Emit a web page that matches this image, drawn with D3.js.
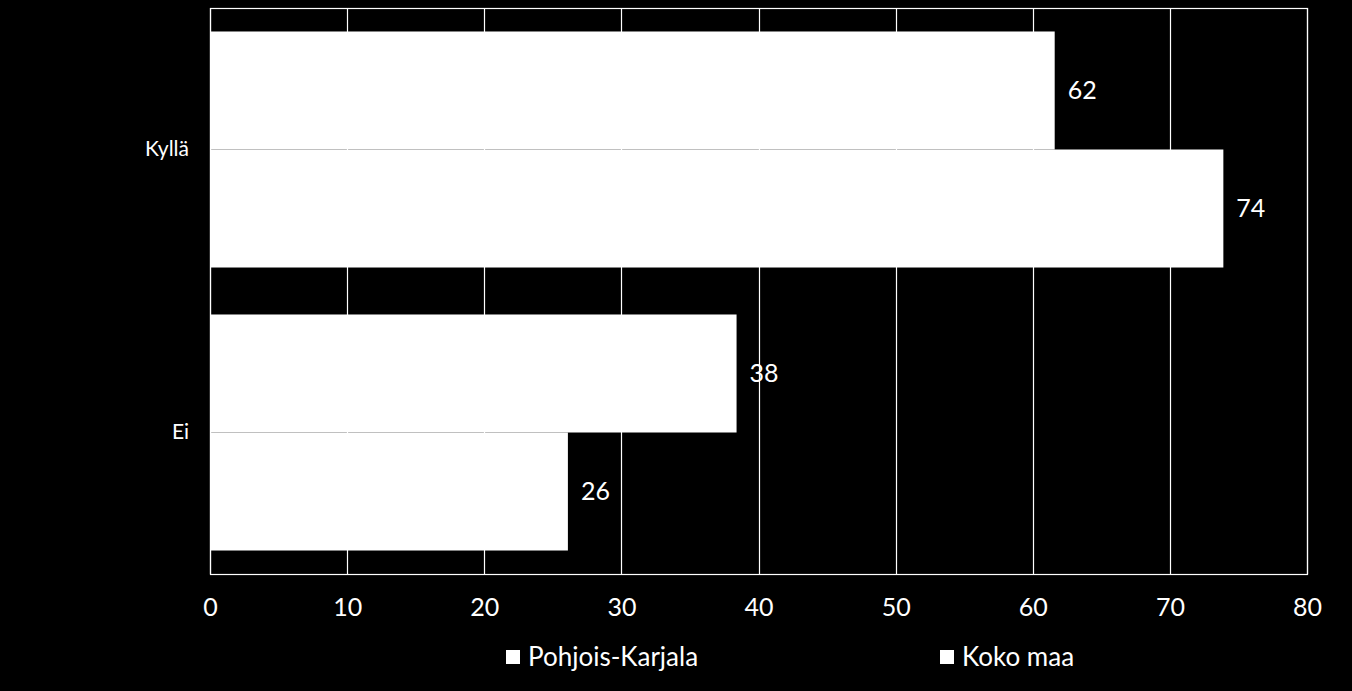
<!DOCTYPE html>
<html><head><meta charset="utf-8">
<script src="https://cdn.jsdelivr.net/npm/d3@7"></script>
<style>
html,body{margin:0;padding:0;background:#000;}
svg{display:block;}
text{font-family:Lato,"Open Sans",sans-serif;fill:#fff;}
</style></head>
<body>
<svg id="c" width="1352" height="691"></svg>
<script>
const categories = ["Kyllä", "Ei"];
const seriesNames = ["Pohjois-Karjala", "Koko maa"];
const pohjoisKarjala = [61.6, 38.4];
const kokoMaa = [73.9, 26.1];
const xTicks = [0, 10, 20, 30, 40, 50, 60, 70, 80];

const svg = d3.select("#c");
const W = 1352, H = 691;
const m = {left: 210, right: 45, top: 8, bottom: 117};
const x = d3.scaleLinear().domain([0, 80]).range([m.left, W - m.right]);
const y = d3.scaleBand().domain(categories).range([m.top, H - m.bottom]).paddingInner(0.166).paddingOuter(0.083);
const ys = d3.scaleBand().domain(seriesNames).range([0, y.bandwidth()]);

svg.append("rect").attr("width", W).attr("height", H).attr("fill", "#000");

// gridlines
svg.append("g").selectAll("line").data(xTicks).join("line")
  .attr("x1", d => Math.round(x(d)) + 0.5).attr("x2", d => Math.round(x(d)) + 0.5)
  .attr("y1", m.top).attr("y2", H - m.bottom)
  .attr("stroke", "#fff").attr("stroke-width", 1.2);
// plot border
svg.append("rect").attr("x", m.left + 0.5).attr("y", m.top + 0.5)
  .attr("width", x(80) - x(0)).attr("height", H - m.bottom - m.top)
  .attr("fill", "none").attr("stroke", "#fff").attr("stroke-width", 1.2);

const data = [];
categories.forEach((c, i) => {
  data.push({cat: c, s: seriesNames[0], v: pohjoisKarjala[i]});
  data.push({cat: c, s: seriesNames[1], v: kokoMaa[i]});
});

const g = svg.append("g");
g.selectAll("rect").data(data).join("rect")
  .attr("x", x(0)).attr("y", d => y(d.cat) + ys(d.s))
  .attr("width", d => x(d.v) - x(0)).attr("height", ys.bandwidth())
  .attr("fill", "#fff");

g.selectAll("text").data(data).join("text")
  .attr("x", d => x(d.v) + 13).attr("y", d => y(d.cat) + ys(d.s) + ys.bandwidth() / 2)
  .attr("dy", "0.35em").attr("font-size", 25).text(d => d3.format(".0f")(d.v));

// x axis labels
const xAxis = svg.append("g").attr("transform", `translate(0,${H - m.bottom})`)
  .call(d3.axisBottom(x).tickValues(xTicks).tickSize(0).tickPadding(24).tickFormat(d3.format("d")));
xAxis.select(".domain").remove();
xAxis.selectAll("text").attr("font-size", 25).attr("fill", "#fff").style("font-family", "Lato, 'Open Sans', sans-serif");

// y axis labels
const yAxis = svg.append("g").attr("transform", `translate(${m.left},0)`)
  .call(d3.axisLeft(y).tickSize(0).tickPadding(21));
yAxis.select(".domain").remove();
yAxis.selectAll("text").attr("font-size", 21).attr("fill", "#fff").style("font-family", "Lato, 'Open Sans', sans-serif");

// legend
const legendX = [506, 940];
const lg = svg.append("g");
seriesNames.forEach((s, i) => {
  lg.append("rect").attr("x", legendX[i]).attr("y", 650).attr("width", 14).attr("height", 14).attr("fill", "#fff");
  lg.append("text").attr("x", legendX[i] + 22).attr("y", 657).attr("dy", "0.35em")
    .attr("font-size", 26).text(s);
});
</script>
</body></html>
